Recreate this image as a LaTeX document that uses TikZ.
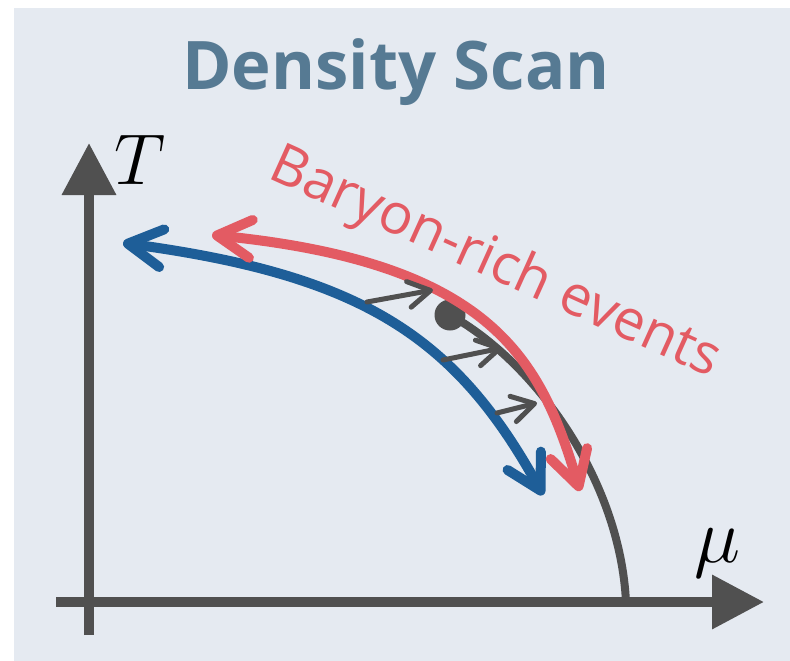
\RequirePackage{fix-cm}
\documentclass[tikz,border=0pt]{standalone}
\usepackage{fontspec}
\setmainfont{Open Sans}
\usetikzlibrary{arrows.meta}
\definecolor{bgc}{HTML}{E5EAF1}
\definecolor{titlec}{HTML}{567A93}
\definecolor{redc}{HTML}{E35B63}
\definecolor{bluec}{HTML}{1E5E98}
\definecolor{greyc}{HTML}{505050}
\tikzset{
  axisline/.style={draw=greyc, line width=10pt, -{Triangle[length=52pt,width=52pt]}},
  scanarrow/.style={line width=10pt, {Straight Barb[length=34pt,width=38pt,round]}-{Straight Barb[length=34pt,width=38pt,round]}},
  smallarrow/.style={draw=greyc, line width=5pt, line cap=round, -{Straight Barb[length=22pt,width=26pt,round]}},
  phasecurve/.style={draw=greyc, line width=8pt},
}
\begin{document}
\begin{tikzpicture}[x=1pt,y=-1pt]
\useasboundingbox (0,0) rectangle (790,661);
\fill[bgc] (14,8) rectangle (790,661);
% title
\node[anchor=base, inner sep=0, text=titlec, font=\fontsize{67}{76}\selectfont\bfseries] (title) at (396,89) {Density Scan};
% axes
\coordinate (yb) at (89,635);
\coordinate (yt) at (89,143);
\coordinate (xl) at (56,602);
\coordinate (xr) at (764,602);
\draw[axisline] (yb) -- (yt);
\draw[axisline] (xl) -- (xr);
\node[anchor=base west, inner sep=0, font=\fontsize{72}{80}\selectfont] (tlab) at (114,184) {$T$};
\node[anchor=base west, inner sep=0, font=\fontsize{78}{86}\selectfont] (mulab) at (694,562) {$\mu$};
% phase boundary
\coordinate (cp) at (450,315);
\coordinate (cpend) at (626,602);
\draw[phasecurve] (cp) .. controls (535,362) and (620,480) .. (cpend);
\fill[greyc] (cp) circle (15.5);
% blue and red arrows
\coordinate (bl) at (123,243);
\coordinate (br) at (543,495);
\draw[scanarrow, draw=bluec] (bl) .. controls (360,275) and (455,335) .. (br);
\coordinate (rl) at (212,235);
\coordinate (rr) at (580,491);
\draw[scanarrow, draw=redc] (rl) .. controls (493,263) and (541,360) .. (rr);
% small arrows
\coordinate (a1s) at (367,302); \coordinate (a1e) at (433,290);
\coordinate (a2s) at (443,360); \coordinate (a2e) at (502,348);
\coordinate (a3s) at (497,413); \coordinate (a3e) at (537,403);
\draw[smallarrow] (a1s) -- (a1e);
\draw[smallarrow] (a2s) -- (a2e);
\draw[smallarrow] (a3s) -- (a3e);
% label
\node[anchor=base west, inner sep=0, rotate=-24.3, text=redc, font=\fontsize{56}{62}\selectfont] (lab) at (266,177) {Baryon-rich events};
\end{tikzpicture}
\end{document}
